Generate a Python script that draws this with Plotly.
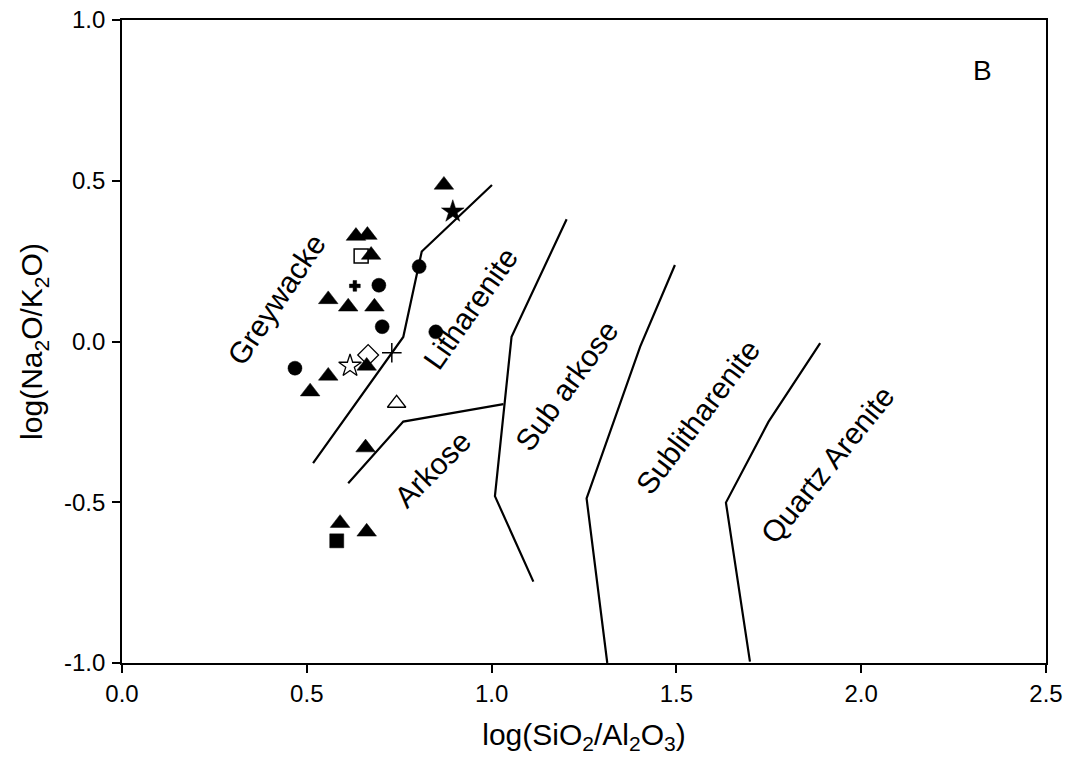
import plotly.graph_objects as go

# ---- data ----
tri_x = [0.871, 0.633, 0.664, 0.674, 0.558, 0.612, 0.683, 0.662, 0.558, 0.509, 0.659, 0.590, 0.662]
tri_y = [0.487, 0.328, 0.331, 0.269, 0.131, 0.108, 0.108, -0.076, -0.107, -0.156, -0.330, -0.565, -0.592]
circ_x = [0.695, 0.704, 0.804, 0.849, 0.468]
circ_y = [0.175, 0.046, 0.233, 0.030, -0.083]
star_x = [0.895]
star_y = [0.404]
star_open_x = [0.617]
star_open_y = [-0.076]
sq_open_x = [0.647]
sq_open_y = [0.266]
sq_x = [0.581]
sq_y = [-0.620]
plus_x = [0.630]
plus_y = [0.173]
diam_open_x = [0.666]
diam_open_y = [-0.042]
thin_cross_x = [0.730]
thin_cross_y = [-0.035]
tri_open_x = [0.743]
tri_open_y = [-0.192]

# boundary lines
grey_lith_x = [0.517, 0.761, 0.811, 1.001]
grey_lith_y = [-0.378, 0.014, 0.280, 0.487]
arkose_x = [0.612, 0.761, 1.032]
arkose_y = [-0.441, -0.249, -0.195]
subark_x = [1.203, 1.054, 1.009, 1.113]
subark_y = [0.380, 0.015, -0.481, -0.747]
sublith_x = [1.496, 1.402, 1.257, 1.313]
sublith_y = [0.238, -0.016, -0.488, -1.0]
quartz_x = [1.889, 1.749, 1.634, 1.699]
quartz_y = [-0.005, -0.250, -0.501, -0.996]

labels = ["Greywacke", "Litharenite", "Arkose", "Sub arkose", "Sublitharenite", "Quartz Arenite"]
label_x = [0.417, 0.942, 0.839, 1.204, 1.556, 1.910]
label_y = [0.132, 0.104, -0.398, -0.138, -0.235, -0.384]
label_angle = [-56, -55, -45, -54, -53, -51]

x_ticks = [0.0, 0.5, 1.0, 1.5, 2.0, 2.5]
y_ticks = [-1.0, -0.5, 0.0, 0.5, 1.0]

FONT = "Liberation Sans, Arial, sans-serif"

fig = go.Figure()

for lx, ly in [(grey_lith_x, grey_lith_y), (arkose_x, arkose_y), (subark_x, subark_y),
               (sublith_x, sublith_y), (quartz_x, quartz_y)]:
    fig.add_trace(go.Scatter(x=lx, y=ly, mode="lines", line=dict(color="black", width=2.2),
                             hoverinfo="skip", showlegend=False))

def pts(x, y, symbol, size, lw=1.2, color="black"):
    fig.add_trace(go.Scatter(x=x, y=y, mode="markers", showlegend=False,
                             marker=dict(symbol=symbol, size=size, color=color,
                                         line=dict(color="black", width=lw))))

pts(tri_x, tri_y, "triangle-up", 17, 0.5)
pts(circ_x, circ_y, "circle", 14, 0.5)
pts(star_x, star_y, "star", 17, 0.5)
pts(star_open_x, star_open_y, "star-open", 17, 1.3)
pts(sq_open_x, sq_open_y, "square-open", 14, 1.5)
pts(sq_x, sq_y, "square", 14, 0.5)
pts(plus_x, plus_y, "cross", 9, 0.5)
pts(diam_open_x, diam_open_y, "diamond-open", 16, 1.3)
pts(thin_cross_x, thin_cross_y, "cross-thin-open", 14, 1.5)
pts(tri_open_x, tri_open_y, "triangle-up-open", 16, 1.3)

for t, x, y, a in zip(labels, label_x, label_y, label_angle):
    fig.add_annotation(x=x, y=y, text=t, textangle=a, showarrow=False,
                       font=dict(family=FONT, size=30, color="black"))

fig.add_annotation(x=2.327, y=0.844, text="B", showarrow=False,
                   font=dict(family=FONT, size=28, color="black"))

axis_common = dict(showline=True, linecolor="black", linewidth=1.8, mirror=True,
                   ticks="outside", ticklen=8, tickwidth=1.5, tickcolor="black",
                   showgrid=False, zeroline=False, automargin=False,
                   tickfont=dict(family=FONT, size=24, color="black"))

fig.update_layout(
    width=1068, height=765,
    margin=dict(l=122, r=22, t=20, b=102),
    paper_bgcolor="white", plot_bgcolor="white",
    xaxis=dict(range=[0, 2.5], tickvals=x_ticks, ticktext=[f"{v:.1f}" for v in x_ticks],
               title=dict(text="log(SiO<sub>2</sub>/Al<sub>2</sub>O<sub>3</sub>)",
                          font=dict(family=FONT, size=30, color="black"), standoff=18),
               **axis_common),
    yaxis=dict(range=[-1, 1], tickvals=y_ticks, ticktext=[f"{v:.1f}" for v in y_ticks],
               ticklabelstandoff=2,
               title=dict(text="log(Na<sub>2</sub>O/K<sub>2</sub>O)",
                          font=dict(family=FONT, size=30, color="black"), standoff=12),
               **axis_common),
)

fig.write_html("out.html")
